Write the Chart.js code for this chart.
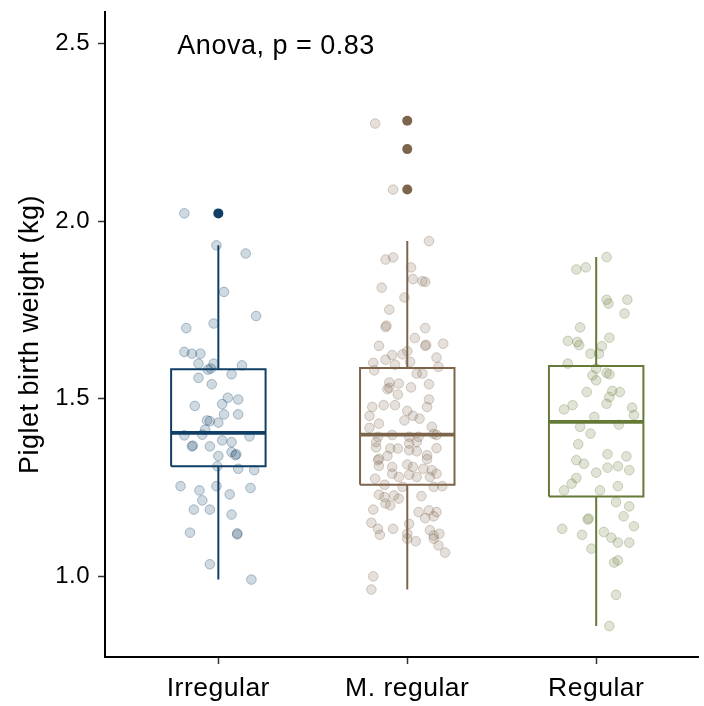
<!DOCTYPE html>
<html><head><meta charset="utf-8">
<script src="https://cdn.jsdelivr.net/npm/chart.js@4.4.1/dist/chart.umd.min.js"></script>
<style>html,body{margin:0;padding:0;background:#fff}canvas{display:block}</style>
</head><body>
<canvas id="c" width="704" height="706"></canvas>
<script>
// ---------- data ----------
const categories = ['Irregular', 'M. regular', 'Regular'];
const yTicks = [1.0, 1.5, 2.0, 2.5];
const testLabel = 'Anova, p = 0.83';
const q1 = [1.310, 1.258, 1.225];
const medians = [1.404, 1.399, 1.435];
const q3 = [1.583, 1.587, 1.592];
const whiskerLow = [0.991, 0.963, 0.860];
const whiskerHigh = [1.932, 1.944, 1.899];
const outliers = [[2.022], [2.283, 2.203, 2.089], []];

const irregularY = [2.022,1.932,1.909,1.801,1.733,1.712,1.699,1.632,1.627,1.627,1.599,1.599,1.594,1.585,1.582,1.569,1.559,1.541,1.503,1.498,1.480,1.485,1.456,1.456,1.439,1.437,1.433,1.413,1.397,1.399,1.394,1.366,1.368,1.366,1.383,1.378,1.350,1.341,1.344,1.339,1.310,1.303,1.299,1.254,1.254,1.249,1.242,1.231,1.214,1.188,1.188,1.174,1.123,1.118,1.121,1.034,0.991];
const irregularJitter = [-0.18,-0.01,0.145,0.03,0.20,-0.025,-0.17,-0.18,-0.14,-0.095,-0.105,-0.025,0.125,-0.04,-0.055,0.07,-0.105,-0.035,0.05,0.105,-0.125,0.02,0.03,0.105,-0.06,-0.045,0.0,-0.07,-0.18,-0.085,0.165,-0.14,-0.135,-0.045,0.02,0.07,0.07,0.09,0.095,0.0,-0.005,0.105,0.19,-0.2,-0.01,0.17,-0.1,0.06,-0.085,-0.13,-0.045,0.07,-0.15,0.1,0.1,-0.045,0.175];

const mRegularY = [2.275,2.089,1.944,1.898,1.892,1.870,1.837,1.831,1.829,1.813,1.785,1.751,1.702,1.706,1.699,1.671,1.649,1.649,1.652,1.655,1.634,1.623,1.625,1.610,1.616,1.601,1.596,1.604,1.590,1.580,1.571,1.571,1.546,1.543,1.541,1.532,1.527,1.531,1.512,1.498,1.477,1.482,1.482,1.477,1.452,1.466,1.452,1.444,1.430,1.439,1.421,1.418,1.393,1.398,1.393,1.393,1.401,1.398,1.363,1.378,1.360,1.360,1.374,1.378,1.355,1.352,1.361,1.339,1.341,1.330,1.327,1.331,1.311,1.315,1.308,1.303,1.308,1.289,1.299,1.289,1.280,1.286,1.280,1.280,1.275,1.258,1.252,1.252,1.254,1.226,1.230,1.223,1.228,1.219,1.205,1.200,1.188,1.181,1.186,1.181,1.164,1.169,1.151,1.148,1.134,1.117,1.134,1.120,1.106,1.130,1.115,1.120,1.099,1.106,1.087,1.067,1.000,0.963];
const mRegularJitter = [-0.17,-0.075,0.115,-0.075,-0.115,0.02,0.03,0.08,0.095,-0.135,-0.015,-0.095,-0.115,-0.11,0.095,0.04,-0.15,0.095,0.1,0.19,0.0,-0.08,-0.025,-0.115,0.155,-0.18,-0.065,0.015,0.165,-0.175,0.05,0.08,-0.095,-0.045,0.115,0.02,-0.105,-0.095,-0.05,0.115,-0.185,-0.125,-0.065,0.105,-0.2,0.0,0.03,0.065,-0.15,-0.015,0.13,-0.2,-0.155,-0.08,0.01,0.06,0.14,0.155,-0.165,-0.165,-0.09,-0.05,0.01,0.05,0.01,0.05,0.155,-0.105,0.105,0.105,-0.155,-0.15,-0.15,0.0,0.03,0.085,-0.08,-0.08,0.13,0.155,0.12,0.01,0.05,-0.045,-0.17,-0.12,-0.025,0.14,0.185,0.075,-0.15,-0.12,-0.07,-0.045,-0.115,-0.09,-0.18,0.06,0.115,0.155,0.095,0.14,-0.19,0.01,-0.155,-0.145,-0.075,0.0,0.0,0.12,0.14,0.17,0.045,0.14,0.165,0.2,-0.18,-0.19];

const regularY = [1.899,1.864,1.870,1.779,1.768,1.779,1.740,1.701,1.672,1.663,1.660,1.651,1.648,1.627,1.627,1.599,1.585,1.566,1.552,1.573,1.569,1.519,1.522,1.519,1.505,1.486,1.470,1.482,1.475,1.454,1.449,1.421,1.402,1.427,1.372,1.327,1.317,1.344,1.338,1.306,1.310,1.299,1.292,1.277,1.261,1.242,1.242,1.254,1.209,1.197,1.169,1.141,1.160,1.163,1.134,1.117,1.125,1.109,1.095,1.095,1.078,1.039,1.045,0.948,0.860];
const regularJitter = [0.055,-0.105,-0.055,0.055,0.065,0.165,0.15,-0.085,0.07,-0.15,-0.1,-0.09,0.03,-0.03,0.015,-0.15,0.0,-0.02,0.0,0.055,0.07,-0.05,0.085,0.125,0.07,0.055,-0.17,-0.125,0.19,0.2,-0.01,-0.085,-0.03,0.12,-0.095,-0.105,-0.065,0.06,0.16,0.06,0.115,0.175,0.0,-0.105,-0.13,-0.17,0.02,0.115,0.105,0.175,0.145,0.2,-0.045,-0.04,-0.18,-0.075,0.04,0.08,0.115,0.175,-0.025,0.095,0.115,0.105,0.07];

// ---------- styles ----------
const groupY = [irregularY, mRegularY, regularY];
const groupJitter = [irregularJitter, mRegularJitter, regularJitter];
const colors = [[15, 63, 102], [125, 101, 75], [102, 122, 56]];
const rgba = (c, a) => `rgba(${c[0]},${c[1]},${c[2]},${a})`;
const BOX_HALF = 0.25;
const FONT = '"Liberation Sans", Arial, sans-serif';
const SPACING = '0.5px';
const labelPos = { x: 0.783, y: 2.47 };

const datasets = [];
// outliers on top
categories.forEach((c, i) => {
  datasets.push({
    type: 'scatter',
    data: outliers[i].map(v => ({ x: i + 1, y: v })),
    pointRadius: 5, pointBorderWidth: 0,
    backgroundColor: rgba(colors[i], 1), borderColor: rgba(colors[i], 1)
  });
});
// jittered points
categories.forEach((c, i) => {
  datasets.push({
    type: 'scatter',
    data: groupY[i].map((v, k) => ({ x: i + 1 + groupJitter[i][k], y: v })),
    pointRadius: 4.8, pointBorderWidth: 1,
    backgroundColor: rgba(colors[i], 0.2), borderColor: rgba(colors[i], 0.3)
  });
});
// boxes
categories.forEach((c, i) => {
  const x = i + 1, col = rgba(colors[i], 1);
  const line = (pts, w) => ({
    type: 'scatter', showLine: true, data: pts, borderColor: col, backgroundColor: col,
    borderWidth: w, pointRadius: 0, pointHoverRadius: 0, fill: false, tension: 0
  });
  datasets.push(line([{ x: x - BOX_HALF, y: medians[i] }, { x: x + BOX_HALF, y: medians[i] }], 3.6));
  datasets.push(line([
    { x: x - BOX_HALF, y: q1[i] }, { x: x + BOX_HALF, y: q1[i] },
    { x: x + BOX_HALF, y: q3[i] }, { x: x - BOX_HALF, y: q3[i] },
    { x: x - BOX_HALF, y: q1[i] }], 2));
  datasets.push(line([{ x: x, y: q3[i] }, { x: x, y: whiskerHigh[i] }], 2));
  datasets.push(line([{ x: x, y: q1[i] }, { x: x, y: whiskerLow[i] }], 2));
});

const textPlugin = {
  id: 'textPlugin',
  beforeUpdate(chart) { chart.ctx.letterSpacing = SPACING; },
  beforeDraw(chart) { chart.ctx.letterSpacing = SPACING; },
  afterDraw(chart) {
    const ctx = chart.ctx, xs = chart.scales.x, ys = chart.scales.y;
    ctx.save();
    ctx.letterSpacing = SPACING;
    ctx.font = '27px ' + FONT;
    ctx.fillStyle = '#000';
    ctx.textAlign = 'left';
    ctx.textBaseline = 'alphabetic';
    ctx.fillText(testLabel, xs.getPixelForValue(labelPos.x), ys.getPixelForValue(labelPos.y));
    ctx.restore();
  }
};

new Chart(document.getElementById('c'), {
  type: 'scatter',
  data: { datasets },
  plugins: [textPlugin],
  options: {
    responsive: false, animation: false, devicePixelRatio: 1,
    layout: { padding: { top: 12, left: 0, right: 0, bottom: 0 } },
    plugins: { legend: { display: false }, tooltip: { enabled: false } },
    scales: {
      x: {
        type: 'linear', min: 0.4, max: 3.54,
        afterBuildTicks(s) { s.ticks = categories.map((c, i) => ({ value: i + 1 })); },
        afterFit(s) { s.height = 49; s.paddingLeft = 0; s.paddingRight = 0; },
        ticks: {
          callback: v => categories[Math.round(v) - 1],
          font: { size: 26.5, family: FONT }, color: '#000', padding: 9,
          autoSkip: false, maxRotation: 0
        },
        grid: { drawOnChartArea: false, drawTicks: true, tickLength: 7, tickColor: '#333', tickWidth: 1.5 },
        border: { display: true, color: '#000', width: 2 }
      },
      y: {
        type: 'linear', min: 0.773, max: 2.589,
        afterBuildTicks(s) { s.ticks = yTicks.map(v => ({ value: v })); },
        afterFit(s) { s.width = 105; s.paddingTop = 0; s.paddingBottom = 0; },
        ticks: {
          callback: v => Number(v).toFixed(1),
          font: { size: 24, family: FONT }, color: '#000', padding: 8
        },
        title: {
          display: true, text: 'Piglet birth weight (kg)',
          font: { size: 27, family: FONT }, color: '#000', padding: { top: 14, bottom: 0 }
        },
        grid: { drawOnChartArea: false, drawTicks: true, tickLength: 7, tickColor: '#333', tickWidth: 1.5 },
        border: { display: true, color: '#000', width: 2 }
      }
    }
  }
});
</script>
</body></html>
